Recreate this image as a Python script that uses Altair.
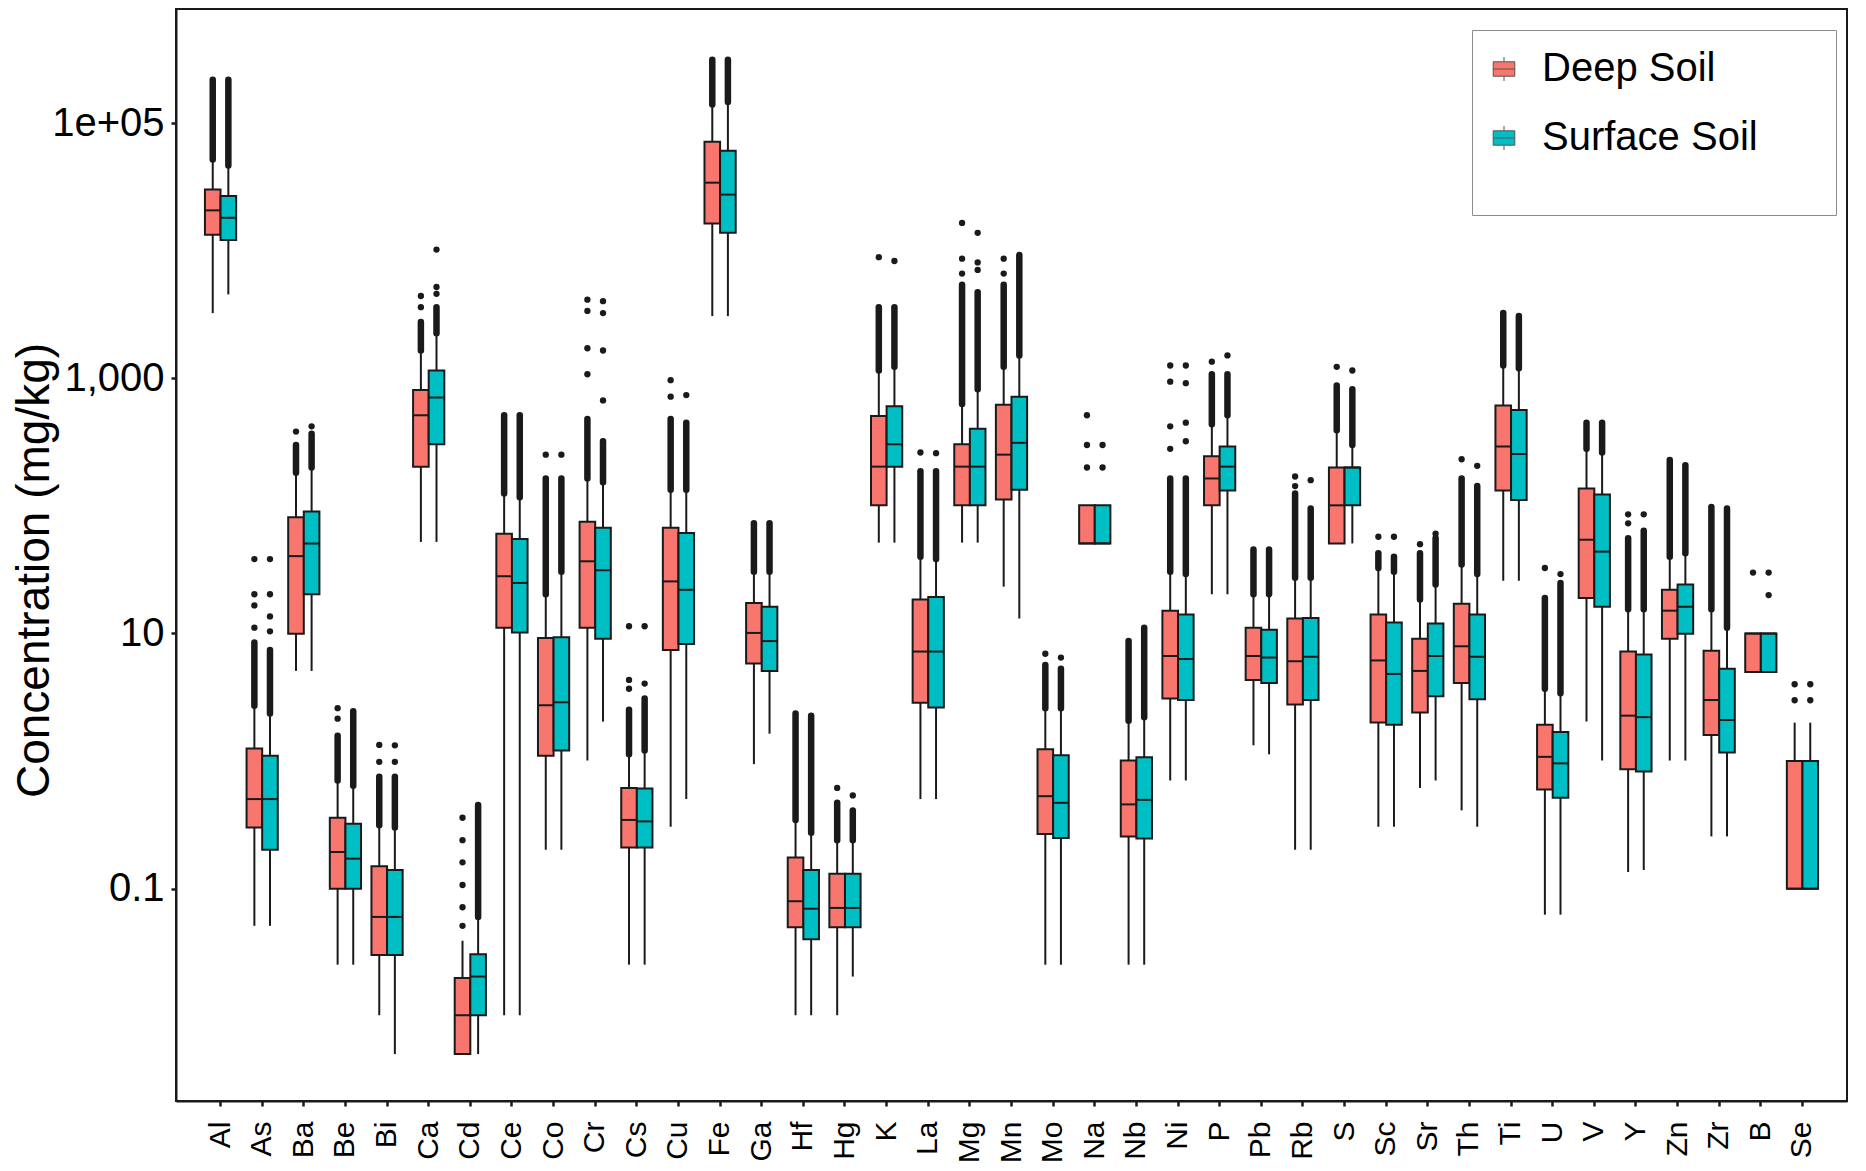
import altair as alt
import pandas as pd

elements = ["Al", "As", "Ba", "Be", "Bi", "Ca", "Cd", "Ce", "Co", "Cr", "Cs", "Cu", "Fe",
            "Ga", "Hf", "Hg", "K", "La", "Mg", "Mn", "Mo", "Na", "Nb", "Ni", "P", "Pb",
            "Rb", "S", "Sc", "Sr", "Th", "Ti", "U", "V", "Y", "Zn", "Zr", "B", "Se"]
groups = ["Deep Soil", "Surface Soil"]
colors = ["#F8766D", "#00BFC4"]

# Deep Soil box statistics (mg/kg)
deep_low = [3240, 0.0512, 5.09, 0.0254, 0.0102, 52.2, 0.00506, 0.0102, 0.202, 1.01, 0.0254, 0.306, 3070,
            0.947, 0.0102, 0.0102, 51.5, 0.504, 51.5, 23.3, 0.0254, 50.8, 0.0254, 0.705, 20.3, 1.33,
            0.202, 50.8, 0.306, 0.616, 0.411, 25.9, 0.0626, 2.04, 0.135, 1.01, 0.257, 5, 0.1]
deep_q1 = [13300, 0.302, 9.97, 0.100, 0.0303, 203, 0.00506, 11.1, 1.10, 11.1, 0.210, 7.42, 16300,
           5.82, 0.0498, 0.0498, 101, 2.86, 101, 112, 0.268, 50.8, 0.257, 3.10, 101, 4.33,
           2.78, 50.8, 2.01, 2.40, 4.10, 132, 0.600, 19.0, 0.862, 9.08, 1.60, 5, 0.1]
deep_med = [20700, 0.504, 40.4, 0.194, 0.0601, 513, 0.0102, 28.1, 2.74, 36.8, 0.346, 25.6, 34100,
            10.1, 0.0798, 0.0707, 203, 7.22, 203, 252, 0.531, 50.8, 0.458, 6.66, 164, 6.66,
            6.06, 101, 6.15, 5.09, 7.94, 292, 1.08, 54.3, 2.27, 15.1, 3.01, 10, 0.1]
deep_q3 = [30200, 1.257, 81.3, 0.360, 0.150, 811, 0.0200, 60.5, 9.20, 75.0, 0.616, 67.3, 71400,
           17.3, 0.176, 0.131, 506, 18.5, 304, 620, 1.24, 101, 1.01, 15.1, 245, 11.1,
           13.1, 200, 14.1, 9.08, 17.1, 611, 1.93, 137, 7.22, 22.0, 7.32, 10, 1]
deep_high = [51800, 2.71, 182, 0.705, 0.315, 1650, 0.0391, 125, 20.3, 164, 1.13, 134, 140000,
             30.5, 0.346, 0.240, 1150, 39.9, 628, 1230, 2.60, 101, 2.07, 30.5, 437, 20.3,
             27.3, 392, 32.6, 18.5, 34.8, 1260, 3.69, 280, 15.5, 39.9, 15.5, 10, 2]
# top of the dense run of outliers above the upper whisker
deep_stop = [218000, 8.49, 300, 1.58, 0.754, 2760, None, 513, 164, 480, 2.53, 480, 314000,
             73.0, 2.36, 0.471, 3610, 187, 5400, 5400, 5.67, None, 8.72, 164, 1076, 45.6,
             125, 879, 42.6, 42.6, 164, 3240, 19.0, 449, 55.8, 229, 98.2, None, None]
deep_dots = [[], [11.1, 16.6, 20.3, 38.3], [382], [2.15, 2.60], [0.987, 1.34], [3610, 4410],
             [0.0512, 0.0716, 0.107, 0.161, 0.240, 0.360], [], [252], [1076, 1720, 3370, 4130],
             [3.69, 4.33, 11.4], [718, 966], [], [], [], [0.616], [8890], [262],
             [6610, 8650, 16500], [6610, 8650], [6.94], [200, 300, 513], [], [280, 420, 940, 1260],
             [1350], [], [143, 170], [1230], [57.3], [50.1], [232], [], [32.6], [], [73.0, 85.8],
             [], [], [30], [3, 4]]

# Surface Soil box statistics (mg/kg)
surf_low = [4540, 0.0512, 5.09, 0.0254, 0.00506, 52.2, 0.00506, 0.0102, 0.202, 2.04, 0.0254, 0.504, 3070,
            1.64, 0.0102, 0.0205, 51.5, 0.504, 51.5, 13.1, 0.0254, 50.8, 0.0254, 0.705, 20.3, 1.13,
            0.202, 50.8, 0.306, 0.705, 0.306, 25.9, 0.0626, 1.01, 0.140, 1.01, 0.257, 5, 0.1]
surf_q1 = [12100, 0.202, 20.3, 0.100, 0.0303, 304, 0.0102, 10.2, 1.21, 9.08, 0.210, 8.26, 13800,
           5.09, 0.0402, 0.0498, 203, 2.63, 101, 134, 0.250, 50.8, 0.247, 3.01, 132, 4.10,
           3.01, 101, 1.93, 3.22, 3.05, 111, 0.517, 16.2, 0.829, 9.97, 1.17, 5, 0.1]
surf_med = [18100, 0.504, 50.8, 0.172, 0.0601, 708, 0.0205, 24.9, 2.89, 31.3, 0.337, 22.0, 27500,
            8.72, 0.0697, 0.0707, 304, 7.22, 203, 312, 0.471, 50.8, 0.497, 6.31, 203, 6.48,
            6.57, 200, 4.82, 6.66, 6.57, 255, 0.960, 43.8, 2.21, 16.2, 2.10, 10, 0.1]
surf_q3 = [26800, 1.10, 90.5, 0.323, 0.140, 1150, 0.0307, 55.0, 9.33, 67.3, 0.609, 61.3, 60800,
           16.2, 0.140, 0.131, 603, 19.3, 403, 718, 1.11, 101, 1.07, 14.1, 292, 10.7,
           13.2, 200, 12.2, 12.0, 14.1, 564, 1.69, 123, 6.84, 24.2, 5.30, 10, 1]
surf_high = [46500, 2.36, 200, 0.641, 0.302, 2250, 0.0601, 117, 30.5, 153, 1.21, 134, 146000,
             30.5, 0.275, 0.240, 1230, 38.3, 822, 1510, 2.60, 101, 2.21, 29.2, 513, 20.3,
             27.3, 300, 30.5, 24.2, 29.2, 1200, 3.40, 262, 15.5, 42.6, 11.1, 10, 2]
surf_stop = [218000, 7.42, 367, 2.46, 0.754, 3610, 0.452, 513, 164, 321, 3.10, 449, 314000,
             73.0, 2.27, 0.411, 3610, 187, 4720, 9250, 5.30, None, 11.1, 164, 1076, 45.6,
             95.5, 822, 39.9, 55.8, 143, 3070, 24.9, 449, 63.8, 208, 95.5, None, None]
surf_dots = [[], [10.4, 13.6, 20.3, 38.3], [420], [], [0.987, 1.33], [4590, 5190, 10200], [], [],
             [252], [671, 1650, 3240, 4020], [4.05, 11.4], [738], [], [], [], [0.538], [8300],
             [259], [7070, 8090, 13800], [], [6.48], [200, 300], [], [321, 449, 916, 1260], [1510],
             [], [159], [1150], [57.3], [60.5], [206], [], [29.2], [], [85.8], [], [], [20, 30], [3, 4]]

y_ticks = [0.1, 10, 1000, 100000]

# ---- build tables ----
box_rows, streak_rows, dot_rows = [], [], []
series = {
    "Deep Soil": (deep_low, deep_q1, deep_med, deep_q3, deep_high, deep_stop, deep_dots),
    "Surface Soil": (surf_low, surf_q1, surf_med, surf_q3, surf_high, surf_stop, surf_dots),
}
for g in groups:
    lo, q1, md, q3, hi, st, dt = series[g]
    for i, el in enumerate(elements):
        box_rows.append(dict(element=el, group=g, low=lo[i], q1=q1[i], med=md[i], q3=q3[i], high=hi[i]))
        if st[i] is not None:
            streak_rows.append(dict(element=el, group=g, start=hi[i], stop=st[i]))
        for v in dt[i]:
            dot_rows.append(dict(element=el, group=g, value=v))

box_df = pd.DataFrame(box_rows)
streak_df = pd.DataFrame(streak_rows)
dot_df = pd.DataFrame(dot_rows)

FONT = "Liberation Sans"
INK = "#1a1a1a"

x_enc = alt.X("element:N", sort=elements,
              scale=alt.Scale(paddingInner=0.25, paddingOuter=0.695),
              axis=alt.Axis(title=None, labelAngle=-90, labelFontSize=30, labelPadding=15,
                            tickSize=5, tickWidth=2.5, tickColor=INK, domainColor=INK,
                            domainWidth=2, labelColor="#000", labelFont=FONT))
xo_enc = alt.XOffset("group:N", sort=groups, scale=alt.Scale(paddingInner=0, paddingOuter=0))
y_scale = alt.Scale(type="log", domain=[0.00217, 783000], nice=False, zero=False)
y_axis = alt.Axis(title="Concentration (mg/kg)", values=y_ticks,
                  labelExpr="datum.value >= 100000 ? '1e+05' : datum.value >= 1000 ? '1,000' : datum.value >= 10 ? '10' : '0.1'",
                  labelFontSize=40, labelPadding=7, labelColor="#000", labelFont=FONT,
                  tickSize=5, tickWidth=2.5, tickColor=INK, domainColor=INK, domainWidth=2,
                  grid=False, titleFontSize=46, titleFont=FONT, titleFontWeight="normal",
                  titleColor="#000", titleX=-142, titleY=561, titleAngle=-90,
                  titleAlign="center", titleBaseline="middle")

whisker = alt.Chart(box_df).mark_rule(color=INK, strokeWidth=2).encode(
    x=x_enc, xOffset=xo_enc,
    y=alt.Y("low:Q", scale=y_scale, axis=y_axis), y2="high:Q")

streak = alt.Chart(streak_df).mark_rule(color=INK, strokeWidth=6.5, strokeCap="round").encode(
    x=x_enc, xOffset=xo_enc, y=alt.Y("start:Q", scale=y_scale), y2="stop:Q")

dots = alt.Chart(dot_df).mark_circle(color=INK, size=40, opacity=1).encode(
    x=x_enc, xOffset=xo_enc, y=alt.Y("value:Q", scale=y_scale))

key_path = "M-0.9,-0.6L0.9,-0.6L0.9,0.6L-0.9,0.6Z M-0.9,0L0.9,0 M0,-0.6L0,-1 M0,0.6L0,1"
legend_pad_title = "\u200b" + "\u00a0" * 39 + "\u200b"
box = alt.Chart(box_df).mark_bar(stroke=INK, strokeWidth=2, opacity=1).encode(
    x=x_enc, xOffset=xo_enc,
    y=alt.Y("q1:Q", scale=y_scale), y2="q3:Q",
    fill=alt.Fill("group:N", scale=alt.Scale(domain=groups, range=colors),
                  legend=alt.Legend(orient="none", legendX=1296, legendY=21,
                                    title=legend_pad_title, titleOrient="bottom", titleFontSize=30,
                                    titlePadding=8, titleLimit=2000,
                                    fillColor="white", strokeColor="#8c8c8c", padding=19,
                                    labelFontSize=40, labelFont=FONT, labelColor="#000",
                                    labelOffset=18, labelLimit=600, rowPadding=29,
                                    symbolType=key_path, symbolSize=576, symbolOffset=-7,
                                    symbolStrokeColor="#555555", symbolStrokeWidth=1,
                                    symbolOpacity=1)))

median = alt.Chart(box_df).mark_tick(color=INK, thickness=2, size=15.6, opacity=1).encode(
    x=x_enc, xOffset=xo_enc, y=alt.Y("med:Q", scale=y_scale))

chart = alt.layer(whisker, streak, dots, box, median).properties(
    width=1671, height=1092,
    autosize=alt.AutoSizeParams(type="none"),
    padding={"left": 168, "top": 1, "right": 11, "bottom": 62},
    background="white",
).configure_view(stroke=INK, strokeWidth=2)

chart.save("out.html", embed_options={"renderer": "svg", "actions": False})
